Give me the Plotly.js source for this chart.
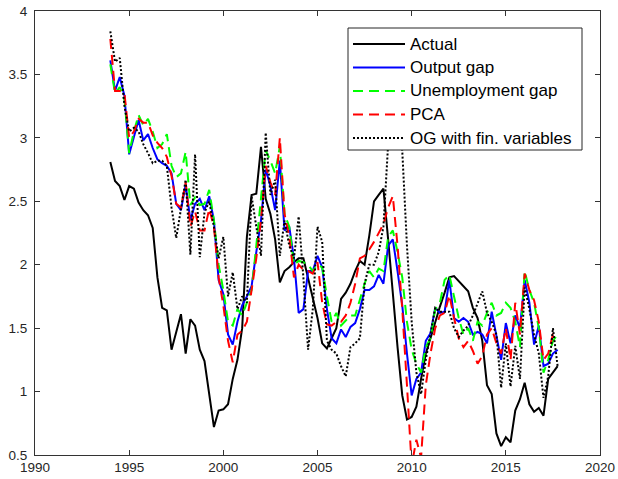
<!DOCTYPE html>
<html>
<head>
<meta charset="utf-8">
<script src="https://cdn.plot.ly/plotly-3.0.1.min.js"></script>
<style>html,body{margin:0;padding:0;background:#fff;}#chart{width:618px;height:479px;}</style>
</head>
<body>
<div id="chart"></div>
<script>
// Quarterly observations, 1994Q1 .. 2017Q4
const firstYear = 1994;
const lastYear = 2017;

const seriesNames = ["Actual", "Output gap", "Unemployment gap", "PCA", "OG with fin. variables"];

const actual = [
  2.81, 2.66, 2.62, 2.51,
  2.62, 2.60, 2.49, 2.43,
  2.39, 2.29, 1.90, 1.66,
  1.64, 1.33, 1.47, 1.61,
  1.30, 1.57, 1.52, 1.33,
  1.24, 0.98, 0.72, 0.85,
  0.86, 0.90, 1.10, 1.25,
  1.50, 2.22, 2.55, 2.56,
  2.93, 2.52, 2.40, 2.20,
  1.86, 1.95, 1.98, 2.02,
  2.05, 2.05, 1.90, 1.73,
  1.58, 1.38, 1.34, 1.42,
  1.50, 1.73, 1.78, 1.85,
  1.95, 2.03, 2.00, 2.23,
  2.50, 2.55, 2.60, 2.20,
  1.75, 1.35, 0.97, 0.78,
  0.80, 0.88, 1.10, 1.30,
  1.42, 1.55, 1.67, 1.78,
  1.90, 1.91, 1.87, 1.83,
  1.79, 1.66, 1.58, 1.40,
  1.05, 0.98, 0.67, 0.57,
  0.64, 0.60, 0.85, 0.94,
  1.07, 0.90, 0.84, 0.87,
  0.81, 1.10, 1.15, 1.20
];

const outputGap = [
  3.61, 3.37, 3.48, 3.33,
  2.87, 3.00, 3.14, 2.98,
  3.03, 2.92, 2.83, 2.80,
  2.78, 2.72, 2.48, 2.43,
  2.63, 2.35, 2.48, 2.52,
  2.43, 2.54, 2.35, 1.88,
  1.77, 1.45, 1.37, 1.55,
  1.68, 1.75, 1.83, 2.10,
  2.35, 2.75, 2.62, 2.43,
  2.82, 2.27, 2.30, 2.05,
  1.62, 1.65, 1.95, 1.95,
  2.07, 1.98, 1.65, 1.42,
  1.38, 1.49, 1.43, 1.51,
  1.54, 1.65, 1.80, 1.80,
  1.83, 1.92, 1.85, 2.15,
  2.20, 1.95, 1.68, 1.30,
  0.97, 1.10, 1.15, 1.40,
  1.46, 1.66, 1.62, 1.63,
  1.88, 1.58, 1.55, 1.58,
  1.55, 1.45, 1.47, 1.45,
  1.38, 1.63, 1.45, 1.25,
  1.54, 1.38, 1.60, 1.50,
  1.88, 1.70, 1.37, 1.52,
  1.20, 1.22, 1.30, 1.33
];

const unemploymentGap = [
  3.58, 3.35, 3.40, 3.30,
  2.88, 3.05, 3.18, 3.10,
  3.15, 3.05, 2.92, 2.95,
  3.03, 2.78, 2.69, 2.72,
  2.89, 2.47, 2.53, 2.47,
  2.48, 2.59, 2.35, 2.00,
  1.80, 1.55, 1.52, 1.65,
  1.60, 1.70, 1.80, 2.15,
  2.50, 2.90, 2.82, 2.72,
  2.93, 2.40, 2.30, 2.00,
  2.03, 2.02, 2.00, 1.95,
  2.00, 1.98, 1.75, 1.55,
  1.62, 1.52, 1.56, 1.60,
  1.60, 1.72, 1.85, 1.95,
  1.90, 1.97, 1.95, 2.22,
  2.27, 2.10, 1.90, 1.55,
  1.33, 1.22, 1.15, 1.35,
  1.42, 1.65, 1.70, 1.88,
  1.92, 1.75, 1.58, 1.45,
  1.50, 1.40, 1.55, 1.52,
  1.62, 1.70, 1.60, 1.62,
  1.70, 1.66, 1.55, 1.35,
  1.95, 1.80, 1.70, 1.50,
  1.15, 1.25, 1.40, 1.45
];

const pca = [
  3.78, 3.37, 3.37, 3.35,
  3.00, 3.05, 3.15, 3.12,
  3.12, 3.02, 2.96, 2.92,
  2.85, 2.70, 2.48, 2.45,
  2.65, 2.30, 2.42, 2.27,
  2.27, 2.44, 2.30, 1.90,
  1.68, 1.40, 1.23, 1.45,
  1.48, 1.55, 1.80, 2.05,
  2.35, 2.78, 2.65, 2.55,
  3.00, 2.40, 2.22, 1.90,
  2.00, 1.96, 1.95, 1.93,
  2.02, 1.70, 1.53, 1.52,
  1.55, 1.55, 1.60, 1.70,
  1.85, 2.05, 2.07, 2.12,
  2.18, 2.25, 2.32, 2.45,
  2.54, 2.15, 1.65, 1.05,
  0.42, 0.62, 0.48, 1.05,
  1.30, 1.50, 1.60, 1.62,
  1.76, 1.58, 1.42, 1.35,
  1.40, 1.32, 1.22, 1.28,
  1.45, 1.50, 1.38, 1.30,
  1.50, 1.25, 1.70, 1.45,
  1.93, 1.80, 1.72, 1.55,
  1.25, 1.30, 1.45, 1.42
];

const ogFin = [
  3.84, 3.60, 3.63, 3.25,
  3.05, 3.08, 3.05, 2.95,
  2.88, 2.80, 2.82, 2.82,
  2.78, 2.45, 2.21, 2.45,
  2.67, 2.08, 2.87, 2.06,
  2.41, 2.50, 2.30, 2.05,
  2.22, 1.75, 1.94, 1.65,
  1.75, 1.70, 2.54, 2.30,
  2.07, 3.04, 2.55, 2.67,
  2.07, 2.35, 2.15, 2.05,
  2.38, 1.90, 1.33, 1.65,
  2.30, 2.18, 1.40, 1.33,
  1.30, 1.20, 1.12, 1.35,
  1.38, 1.42, 1.85, 2.00,
  2.00, 2.10, 2.30, 2.95,
  3.50, 3.20, 2.90, 2.15,
  1.55, 1.15, 0.98, 1.25,
  1.45, 1.66, 1.63, 1.63,
  1.63, 1.50, 1.43, 1.48,
  1.52, 1.60, 1.70, 1.79,
  1.62, 1.55, 1.45, 1.03,
  1.38, 1.04, 1.36, 1.10,
  1.82, 1.65, 1.45, 1.30,
  0.95, 1.12, 1.50, 1.20
];

const xTickVals = [1990, 1995, 2000, 2005, 2010, 2015, 2020];
const yTickVals = [0.5, 1, 1.5, 2, 2.5, 3, 3.5, 4];
const yTickText = ["0.5", "1", "1.5", "2", "2.5", "3", "3.5", "4"];

// time axis
const t = [];
for (let y = firstYear; y <= lastYear; y++) {
  for (let q = 0; q < 4; q++) t.push(y + q / 4);
}

const seriesData = [actual, outputGap, unemploymentGap, pca, ogFin];
const styles = [
  {color: "#000000", dash: "solid"},
  {color: "#0000ff", dash: "solid"},
  {color: "#00ff00", dash: "10px,6px"},
  {color: "#ff0000", dash: "10px,6px"},
  {color: "#000000", dash: "2px,2px"}
];

const traces = seriesData.map((vals, i) => ({
  x: t, y: vals, type: "scatter", mode: "lines", name: seriesNames[i],
  line: {color: styles[i].color, width: 2, dash: styles[i].dash},
  showlegend: false, hoverinfo: "skip"
}));

// manual legend (MATLAB style box) in paper coordinates
const plotL = 35, plotR = 600, plotT = 11, plotB = 455;
const px = v => (v - plotL) / (plotR - plotL);
const py = v => 1 - (v - plotT) / (plotB - plotT);
const shapes = [{
  type: "rect", xref: "paper", yref: "paper",
  x0: px(348), x1: px(582), y0: py(150), y1: py(28),
  line: {color: "#262626", width: 1}, fillcolor: "#ffffff", layer: "above"
}];
const annotations = [];
const rowY = [44, 67.5, 91, 114.5, 138];
seriesNames.forEach((nm, i) => {
  shapes.push({
    type: "line", xref: "paper", yref: "paper",
    x0: px(353), x1: px(405), y0: py(rowY[i]), y1: py(rowY[i]),
    line: {color: styles[i].color, width: 2, dash: styles[i].dash}, layer: "above"
  });
  annotations.push({
    xref: "paper", yref: "paper", x: px(408), y: py(rowY[i]),
    xanchor: "left", yanchor: "middle", showarrow: false, text: nm,
    font: {family: "Liberation Sans, Arial, sans-serif", size: 17, color: "#000000"}
  });
});

const axisCommon = {
  showgrid: false, zeroline: false, showline: true, mirror: "allticks",
  linecolor: "#333333", linewidth: 1, ticks: "inside", ticklen: 5, tickwidth: 1,
  tickcolor: "#333333",
  tickfont: {family: "Liberation Sans, Arial, sans-serif", size: 13.5, color: "#262626"}
};

const layout = {
  width: 618, height: 479,
  margin: {l: 35, r: 18, t: 11, b: 24, pad: 0},
  paper_bgcolor: "#ffffff", plot_bgcolor: "#ffffff",
  showlegend: false,
  xaxis: Object.assign({}, axisCommon, {
    range: [1990, 2020], tickmode: "array", tickvals: xTickVals,
    ticktext: xTickVals.map(String)
  }),
  yaxis: Object.assign({}, axisCommon, {
    range: [0.5, 4], tickmode: "array", tickvals: yTickVals, ticktext: yTickText,
    ticklabelstandoff: 4
  }),
  shapes: shapes,
  annotations: annotations
};

Plotly.newPlot("chart", traces, layout, {displayModeBar: false, staticPlot: true});
</script>
</body>
</html>
